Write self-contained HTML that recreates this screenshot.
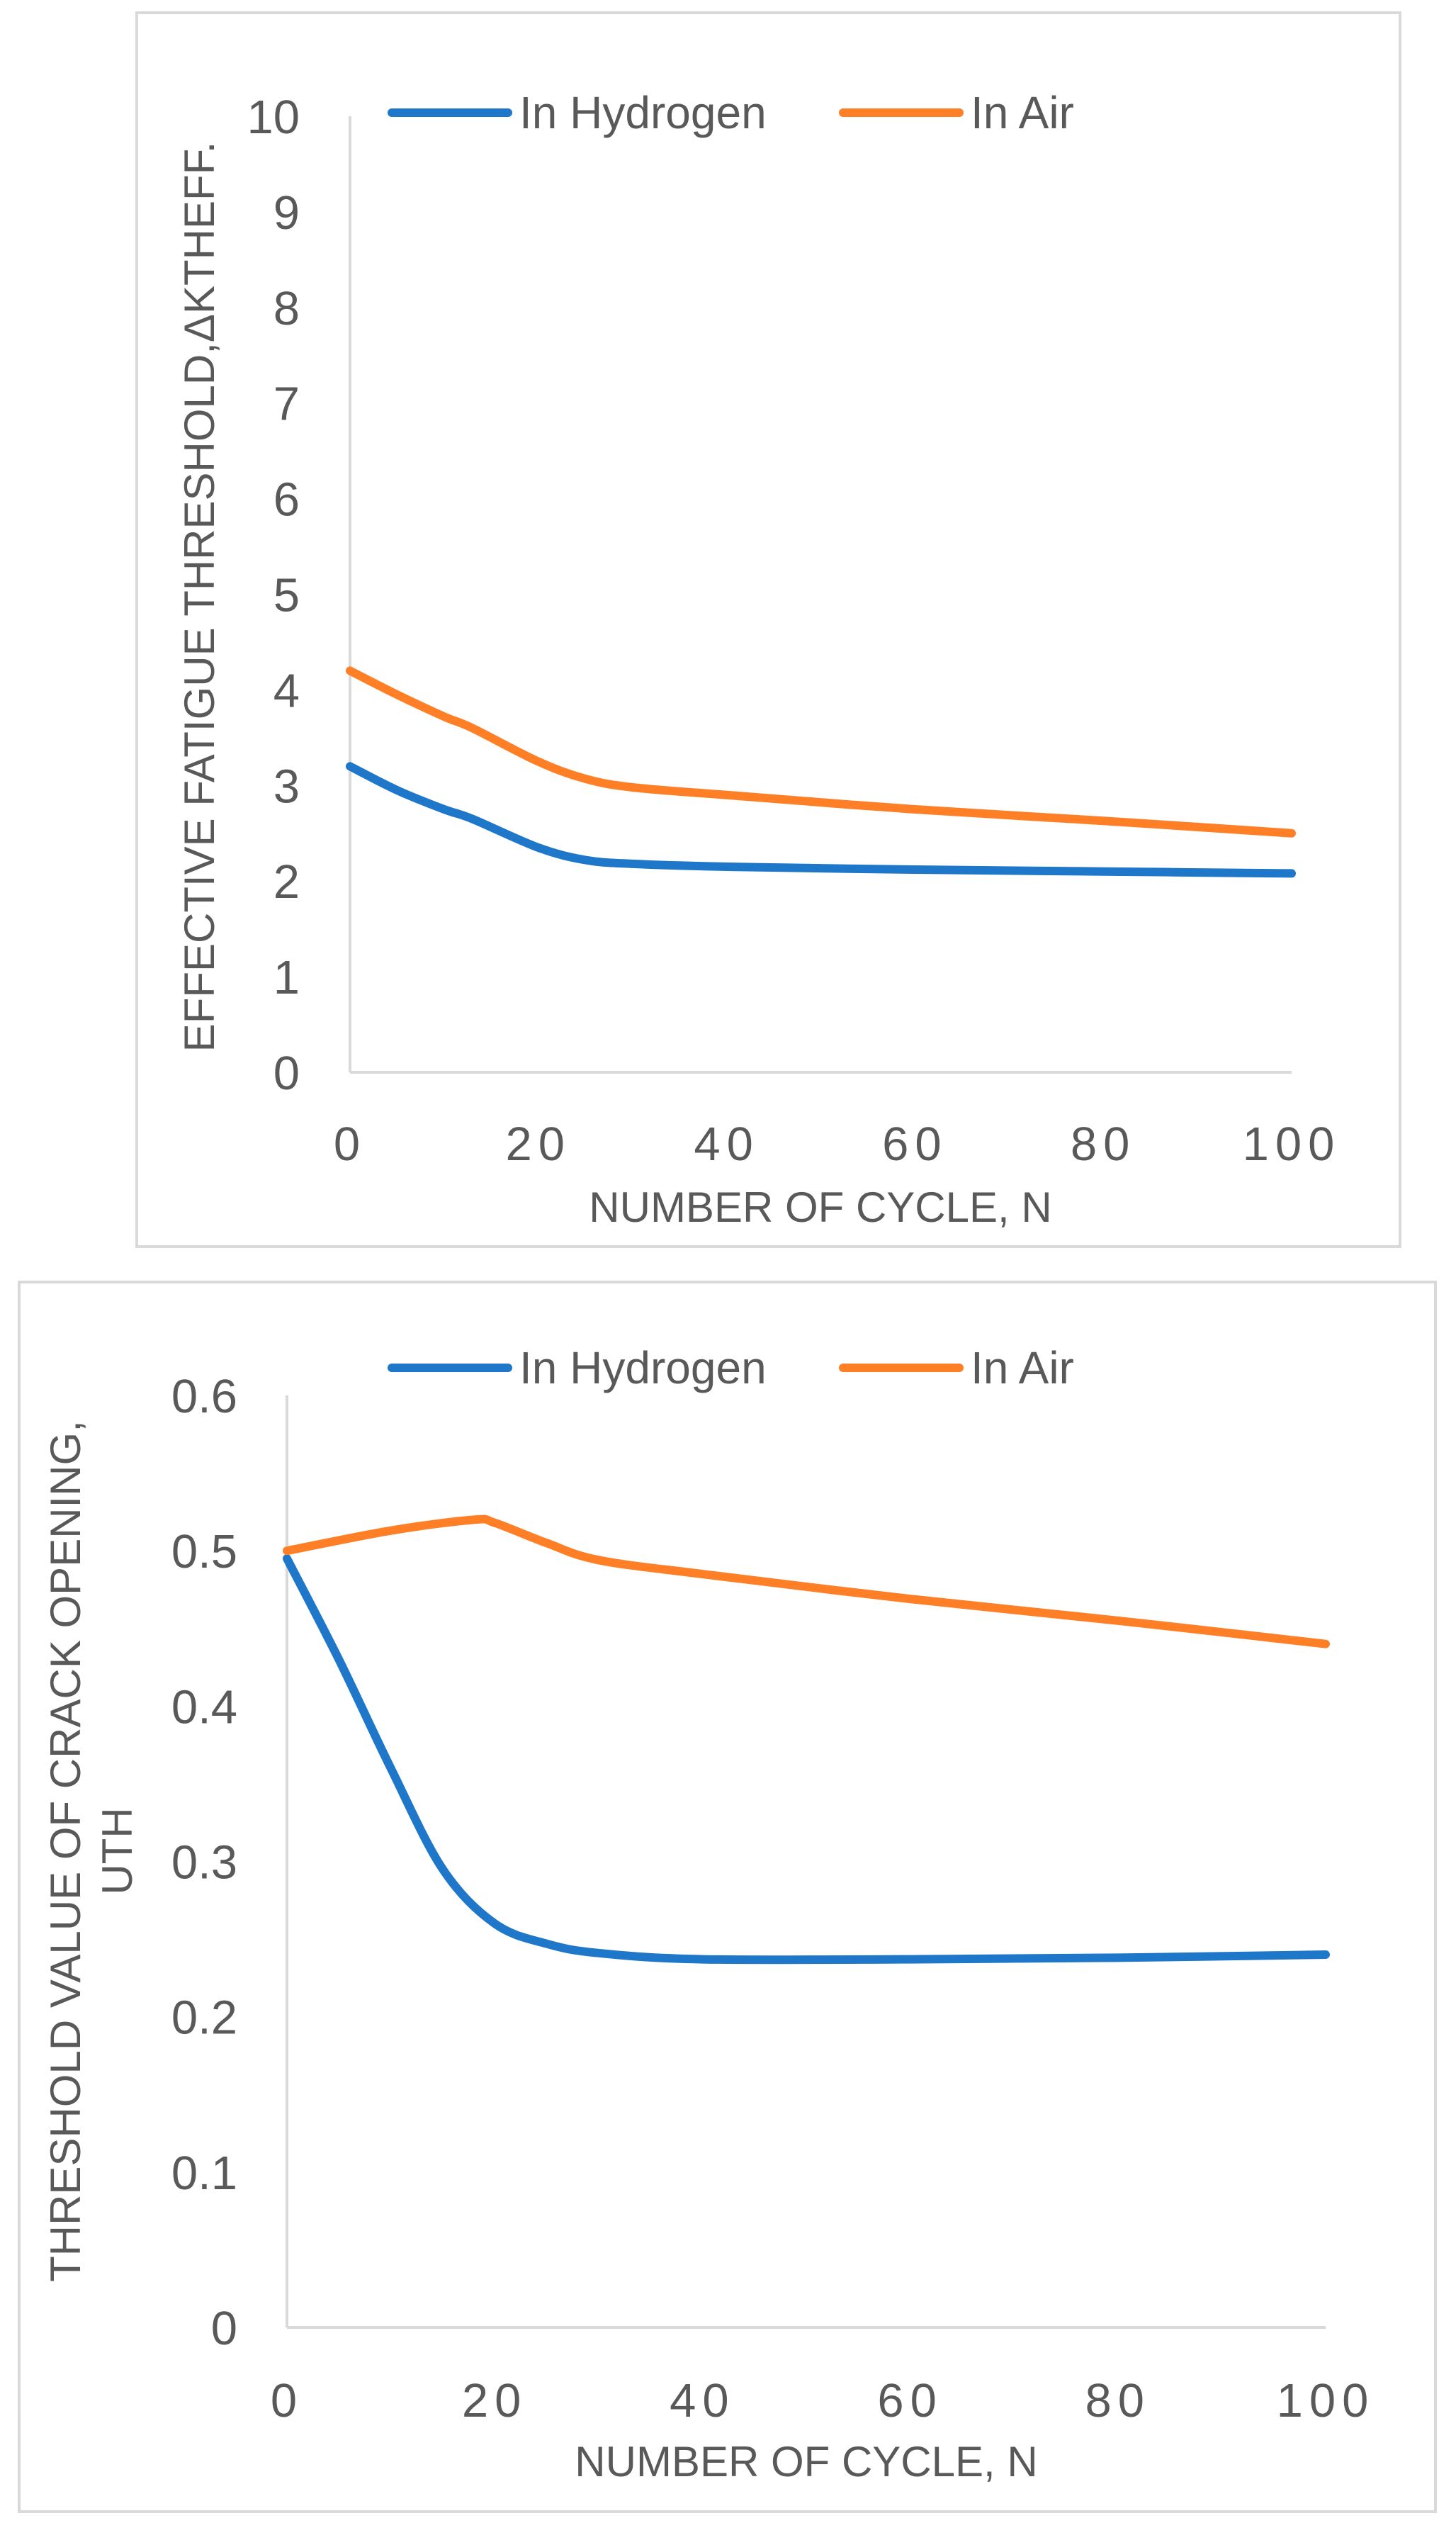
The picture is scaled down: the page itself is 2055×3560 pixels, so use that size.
<!DOCTYPE html>
<html><head><meta charset="utf-8"><style>
html,body{margin:0;padding:0;background:#fff}
svg{display:block}
text{font-family:"Liberation Sans",sans-serif;fill:#595959}
</style></head><body>
<svg width="2055" height="3560" viewBox="0 0 2055 3560" xmlns="http://www.w3.org/2000/svg" id="root">
<rect x="193" y="18" width="1783" height="1741" fill="#fff" stroke="#d9d9d9" stroke-width="4"/>
<rect x="27" y="1809" width="1999" height="1735" fill="#fff" stroke="#d9d9d9" stroke-width="4"/>
<g id="c1"></g>
<g id="c2"></g>
</svg>
<script>
const xTicks=[0,20,40,60,80,100];
const c1X=[0,5,10,13,20,25,30,40,60,80,100];
const c1Hyd=[3.2,2.95,2.75,2.65,2.35,2.22,2.18,2.15,2.12,2.1,2.08];
const c1Air=[4.2,3.95,3.72,3.6,3.25,3.07,2.98,2.9,2.75,2.63,2.5];
const c1YTicks=[0,1,2,3,4,5,6,7,8,9,10];
const c2HX=[0,5,10,15,20,25,30,40,60,80,100];
const c2Hyd=[0.495,0.43,0.36,0.295,0.26,0.247,0.241,0.237,0.237,0.238,0.24];
const c2AX=[0,10,18,20,25,30,40,60,80,100];
const c2Air=[0.5,0.513,0.52,0.518,0.505,0.494,0.485,0.469,0.455,0.44];
const c2YTicks=[0,0.1,0.2,0.3,0.4,0.5,0.6];
const NS="http://www.w3.org/2000/svg";
function mk(p,t,a){const e=document.createElementNS(NS,t);for(const k in a)e.setAttribute(k,a[k]);p.appendChild(e);return e;}
function path(pts){let d="M"+pts[0][0]+","+pts[0][1];for(let i=0;i<pts.length-1;i++){const p0=pts[Math.max(0,i-1)],p1=pts[i],p2=pts[i+1],p3=pts[Math.min(pts.length-1,i+2)];d+=" C"+(p1[0]+(p2[0]-p0[0])/6)+","+(p1[1]+(p2[1]-p0[1])/6)+" "+(p2[0]-(p3[0]-p1[0])/6)+","+(p2[1]-(p3[1]-p1[1])/6)+" "+p2[0]+","+p2[1];}return d;}
function chart(g,o){
 const sx=v=>o.x0+(v-0)/100*(o.x1-o.x0), sy=v=>o.y0+(v/o.ymax)*(o.y1-o.y0);
 let e=mk(g,"line",{x1:o.x0,y1:o.y0,x2:o.x0,y2:o.y1,stroke:"#d9d9d9","stroke-width":4});
 
 
 e=mk(g,"line",{x1:o.x0,y1:o.y0,x2:o.x1,y2:o.y0,stroke:"#d9d9d9","stroke-width":4});
 
 
 o.yt.forEach(v=>{const t=mk(g,"text",{x:o.ylx,y:sy(v)+24,"text-anchor":"end","font-size":67});t.textContent=String(v);
  
  });
 xTicks.forEach(v=>{const t=mk(g,"text",{x:sx(v),y:o.xly,"text-anchor":"middle","font-size":67,"letter-spacing":"9"});t.textContent=String(v);
  
  });
 let t=mk(g,"text",{x:o.xtx,y:o.xty,"text-anchor":"middle","font-size":60});t.textContent="NUMBER OF CYCLE, N";
 
 
 o.ytitles.forEach(a=>{const tt=mk(g,"text",{x:0,y:0,"text-anchor":"middle","font-size":60,transform:"translate("+a[0]+","+o.ytc+") rotate(-90)"});tt.textContent=a[1];
  
  });
 o.series.forEach(s=>{const p=mk(g,"path",{d:path(s.xs.map((x,i)=>[sx(x),sy(s.ys[i])])),fill:"none",stroke:s.c,"stroke-width":12,"stroke-linecap":"round","stroke-linejoin":"round"});
  
  });
 [["#1f77c9","In Hydrogen",553,733,"legend-hydrogen"],["#ff7f27","In Air",1190,1370,"legend-air"]].forEach(l=>{
  const lg=mk(g,"g",{});
  
  
  mk(lg,"line",{x1:l[2],y1:o.ly,x2:l[2]+164,y2:o.ly,stroke:l[0],"stroke-width":12,"stroke-linecap":"round"});
  const tx=mk(lg,"text",{x:l[3],y:o.ly+22,"font-size":64});tx.textContent=l[1];});
}
chart(document.getElementById("c1"),{x0:494,x1:1823,y0:1513,y1:164,ymax:10,yt:c1YTicks,ylx:423,xly:1637,xtx:1158,xty:1724,ytc:842,ytitles:[[302,"EFFECTIVE FATIGUE THRESHOLD,ΔKTHEFF."]],ly:159,
 series:[{xs:c1X,ys:c1Hyd,c:"#1f77c9",n:"hydrogen"},{xs:c1X,ys:c1Air,c:"#ff7f27",n:"air"}]});
chart(document.getElementById("c2"),{x0:405,x1:1871,y0:3284,y1:1969,ymax:0.6,yt:c2YTicks,ylx:335,xly:3410,xtx:1138,xty:3494,ytc:2612,ytitles:[[113,"THRESHOLD VALUE OF CRACK OPENING,"],[186,"UTH"]],ly:1930,
 series:[{xs:c2HX,ys:c2Hyd,c:"#1f77c9",n:"hydrogen"},{xs:c2AX,ys:c2Air,c:"#ff7f27",n:"air"}]});
</script>
</body></html>
